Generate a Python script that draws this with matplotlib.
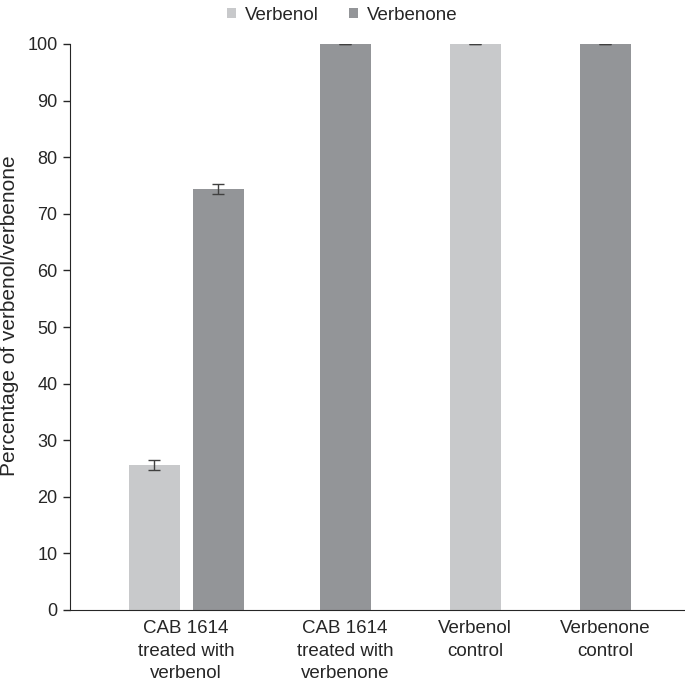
import numpy as np
import matplotlib.pyplot as plt

plt.rcParams['font.family'] = ['Liberation Sans', 'DejaVu Sans']

# data
groups = ["CAB 1614\ntreated with\nverbenol", "CAB 1614\ntreated with\nverbenone",
          "Verbenol\ncontrol", "Verbenone\ncontrol"]
verbenol = [25.6, None, 100.0, None]
verbenol_err = [0.9, None, 0.0, None]
verbenone = [74.4, 100.0, None, 100.0]
verbenone_err = [0.9, 0.0, None, 0.0]

# group centres (irregular in the original layout), in axis units
centres = np.array([116, 275, 405, 535])
bw = 51
offset = 32

c_ol = "#c8c9cb"
c_one = "#939598"
txt = "#262626"

fig = plt.figure(figsize=(6.85, 6.85), dpi=100)
ax = fig.add_axes([70 / 685, 1 - 610 / 685, 615 / 685, 566 / 685])

for i, c in enumerate(centres):
    both = verbenol[i] is not None and verbenone[i] is not None
    if verbenol[i] is not None:
        x = c - offset if both else c
        ax.bar(x, verbenol[i], bw, color=c_ol, label="Verbenol" if i == 0 else None)
        ax.errorbar(x, verbenol[i], yerr=verbenol_err[i], fmt="none",
                    ecolor="#404040", elinewidth=1, capsize=4, capthick=1)
    if verbenone[i] is not None:
        x = c + offset if both else c
        ax.bar(x, verbenone[i], bw, color=c_one, label="Verbenone" if i == 0 else None)
        ax.errorbar(x, verbenone[i], yerr=verbenone_err[i], fmt="none",
                    ecolor="#404040", elinewidth=1, capsize=4, capthick=1)

ax.set_xlim(0, 615)
ax.set_ylim(0, 100)
ax.set_yticks(np.arange(0, 101, 10))
ax.set_xticks(centres)
ax.set_xticklabels(groups, fontsize=13.5, color=txt, linespacing=1.45)
ax.tick_params(axis="x", length=0, pad=7)
ax.tick_params(axis="y", labelsize=13, labelcolor=txt, length=5, width=1, color=txt, pad=4)
ax.set_ylabel("Percentage of verbenol/verbenone", fontsize=15, color=txt)
ax.yaxis.set_label_coords(-0.083, 0.52)

for s in ["top", "right"]:
    ax.spines[s].set_visible(False)
ax.spines["left"].set_color(txt)
ax.spines["bottom"].set_color(txt)

fig.legend(loc="upper center", bbox_to_anchor=(0.5, 1.015), ncol=2, frameon=False,
           fontsize=13.5, handlelength=0.45, handleheight=0.45, handletextpad=0.5,
           columnspacing=1.6, labelcolor=txt)

fig.savefig("out.png", dpi=100)
